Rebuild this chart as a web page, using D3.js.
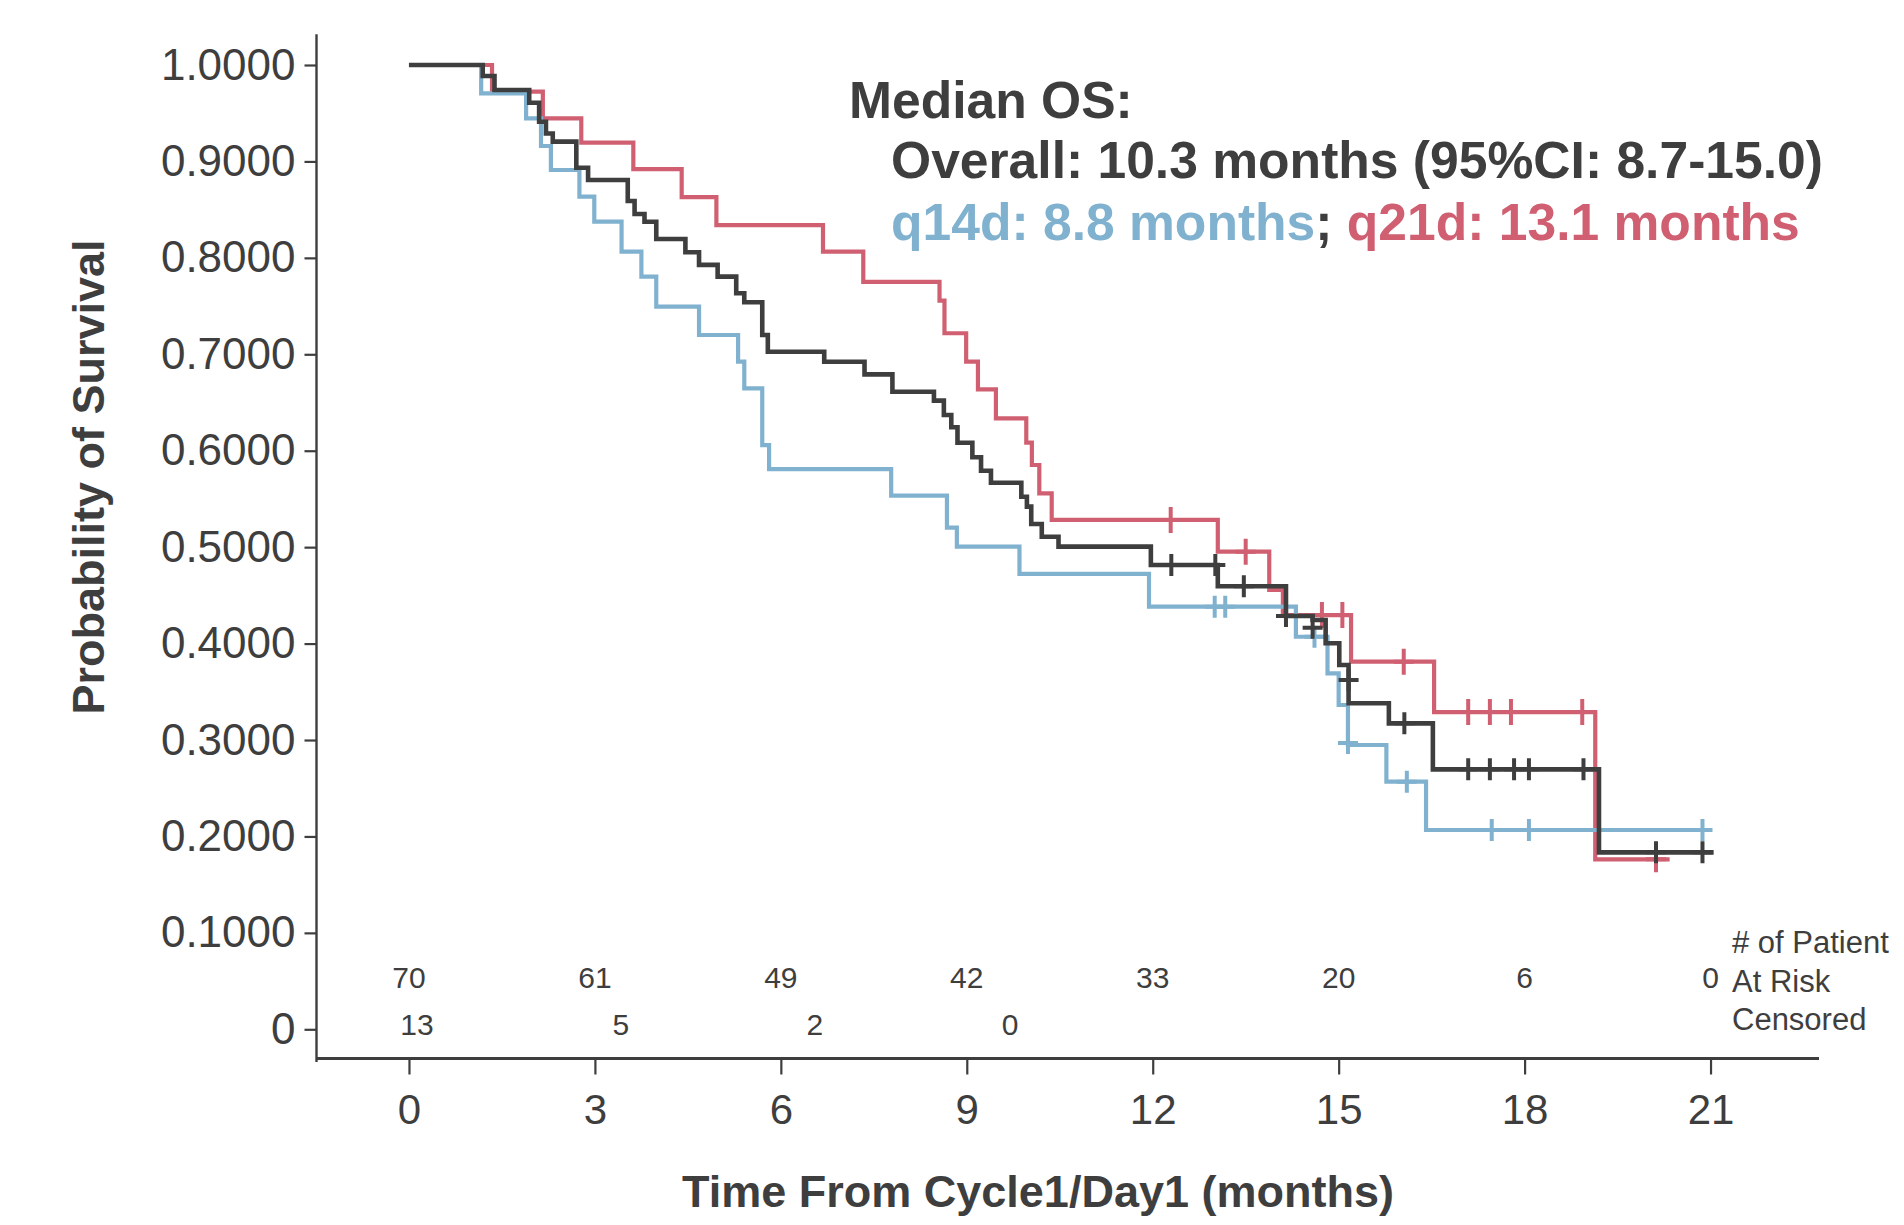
<!DOCTYPE html>
<html><head><meta charset="utf-8">
<script src="https://cdn.jsdelivr.net/npm/d3@7"></script>
<style>
html,body{margin:0;padding:0;background:#fff;overflow:hidden}
svg{display:block;font-family:"Liberation Sans",Arial,Helvetica,sans-serif}
</style></head><body>
<svg id="chart" width="1904" height="1225"></svg>
<script>
// ---- data (time in months, survival probability) ----
const overallSteps = [
  [0,1.0],[1.19,0.9886],[1.38,0.9741],[1.94,0.9609],[2.10,0.9412],[2.21,0.9290],[2.32,0.9205],
  [2.70,0.8935],[2.89,0.8807],[3.53,0.8590],[3.64,0.8455],[3.80,0.8375],[3.99,0.8196],
  [4.46,0.8058],[4.68,0.7927],[4.98,0.7805],[5.28,0.7633],[5.41,0.7539],[5.70,0.7200],
  [5.79,0.7027],[6.70,0.6923],[7.35,0.6792],[7.80,0.6612],[8.47,0.6519],[8.63,0.6370],
  [8.75,0.6243],[8.85,0.6083],[9.09,0.5932],[9.23,0.5793],[9.39,0.5668],[9.88,0.5523],
  [9.97,0.5420],[10.04,0.5240],[10.21,0.5108],[10.48,0.5005],[11.97,0.4815],[13.05,0.4595],
  [14.15,0.4286],[14.58,0.4244],[14.79,0.4003],[15.01,0.3778],[15.16,0.3381],[15.81,0.3173],
  [16.52,0.2696],[19.20,0.1835],[21.05,0.1835]
];
const q14dSteps = [
  [0,1.0],[1.165,0.9706],[1.89,0.9447],[2.13,0.9160],[2.29,0.8911],[2.75,0.8634],[2.99,0.8375],
  [3.43,0.8064],[3.75,0.7805],[3.99,0.7494],[4.68,0.7200],[5.31,0.6923],[5.41,0.6647],
  [5.70,0.6059],[5.81,0.5810],[7.78,0.5534],[8.68,0.5202],[8.84,0.5005],[9.85,0.4722],
  [11.94,0.4383],[14.31,0.4071],[14.82,0.3692],[15.00,0.3363],[15.15,0.2948],[15.77,0.2568],
  [16.41,0.2067],[21.01,0.2067]
];
const q21dSteps = [
  [0,1.0],[1.34,0.9723],[2.16,0.9447],[2.78,0.9194],[3.62,0.8921],[4.40,0.8630],[4.96,0.8340],
  [6.68,0.8064],[7.33,0.7750],[8.56,0.7556],[8.64,0.7218],[8.99,0.6923],[9.18,0.6637],
  [9.47,0.6336],[9.96,0.6083],[10.05,0.5852],[10.17,0.5558],[10.37,0.5282],[13.05,0.4953],
  [13.88,0.4556],[14.10,0.4296],[15.20,0.3812],[16.54,0.3290],[19.14,0.1763],[20.34,0.1763]
];
const overallCensored = [
  [12.30,0.4815],[13.01,0.4815],[13.47,0.4595],[14.15,0.4286],[14.58,0.4165],[15.16,0.3622],
  [16.06,0.3173],[17.09,0.2696],[17.44,0.2696],[17.83,0.2696],[18.07,0.2696],[18.95,0.2696],
  [20.12,0.1835],[20.87,0.1835]
];
const q14dCensored = [
  [13.00,0.4383],[13.17,0.4383],[14.61,0.4071],[15.15,0.2970],[16.10,0.2568],
  [17.47,0.2067],[18.07,0.2067],[20.87,0.2067]
];
const q21dCensored = [
  [12.29,0.5282],[13.50,0.4953],[14.73,0.4296],[15.06,0.4296],[16.05,0.3812],
  [17.09,0.3290],[17.44,0.3290],[17.78,0.3290],[18.93,0.3290],[20.12,0.1763]
];
const xTicks = [0,3,6,9,12,15,18,21];
const yTicks = [0,0.1,0.2,0.3,0.4,0.5,0.6,0.7,0.8,0.9,1.0];
const atRiskTimes = [0,3,6,9,12,15,18,21];
const atRiskCounts = [70,61,49,42,33,20,6,0];
const censoredTimes = [0.13,3.42,6.55,9.70];
const censoredCounts = [13,5,2,0];
const tableLabels = ["# of Patient","At Risk","Censored"];
const titleLine1 = "Median OS:";
const titleLine2 = "Overall: 10.3 months (95%CI: 8.7-15.0)";
const titleLine3 = [["q14d: 8.8 months","q14d"],["; ","overall"],["q21d: 13.1 months","q21d"]];
const xLabel = "Time From Cycle1/Day1 (months)";
const yLabel = "Probability of Survival";

// ---- styles ----
const colors = {overall:"#3e3e3e", q14d:"#80b2d0", q21d:"#d06071"};
const dark = "#3e3e3e";

const svg = d3.select("#chart");
const x = d3.scaleLinear().domain([-1.5, 22.75]).range([316, 1819]);
const y = d3.scaleLinear().domain([0, 1]).range([1029.3, 65]);

// axes
const yAxis = d3.axisLeft(y).tickValues(yTicks).tickSize(12).tickPadding(9)
  .tickFormat(d => d === 0 ? "0" : d.toFixed(4));
const gy = svg.append("g").attr("transform","translate(316.5,0)").call(yAxis);
gy.select(".domain").remove();
gy.selectAll("line").attr("stroke",dark).attr("stroke-width",2.2);
gy.selectAll("text").attr("fill",dark).attr("font-size",44).attr("font-family","'Liberation Sans',Arial,sans-serif");
svg.append("line").attr("x1",316.5).attr("x2",316.5).attr("y1",y(1.032)).attr("y2",y(-0.034))
  .attr("stroke",dark).attr("stroke-width",2.4);

const xAxis = d3.axisBottom(x).tickValues(xTicks).tickSize(16).tickPadding(20).tickFormat(d3.format("d"));
const gx = svg.append("g").attr("transform","translate(0,1058.5)").call(xAxis);
gx.select(".domain").remove();
gx.selectAll("line").attr("stroke",dark).attr("stroke-width",2.2);
gx.selectAll("text").attr("fill",dark).attr("font-size",42).attr("font-family","'Liberation Sans',Arial,sans-serif");
svg.append("line").attr("x1",316).attr("x2",x(22.75)).attr("y1",1058.5).attr("y2",1058.5)
  .attr("stroke",dark).attr("stroke-width",3);

// axis labels
svg.append("text").attr("transform","translate(104,477) rotate(-90)").attr("text-anchor","middle")
  .attr("font-weight","bold").attr("font-size",45).attr("fill",dark).text(yLabel);
svg.append("text").attr("x",1038).attr("y",1207).attr("text-anchor","middle")
  .attr("font-weight","bold").attr("font-size",45).attr("fill",dark).text(xLabel);

// curves
const line = d3.line().x(d => x(d[0])).y(d => y(d[1])).curve(d3.curveStepAfter);
const series = [
  {key:"q21d", steps:q21dSteps, cens:q21dCensored, w:4.2, v:13},
  {key:"q14d", steps:q14dSteps, cens:q14dCensored, w:4.2, v:11},
  {key:"overall", steps:overallSteps, cens:overallCensored, w:4.6, v:11}
];
series.forEach(s => {
  svg.append("path").datum(s.steps).attr("d", line).attr("fill","none")
    .attr("stroke", colors[s.key]).attr("stroke-width", s.w).attr("stroke-linejoin","miter");
  svg.append("g").selectAll("path").data(s.cens).join("path")
    .attr("d", d => {
      const cx = x(d[0]), cy = y(d[1]);
      return `M${cx-10},${cy}H${cx+10}M${cx},${cy-s.v}V${cy+s.v}`;
    })
    .attr("stroke", colors[s.key]).attr("stroke-width", 4).attr("fill","none");
});

// at-risk table
svg.append("g").selectAll("text").data(atRiskCounts).join("text")
  .attr("x",(d,i)=>x(atRiskTimes[i])).attr("y",988).attr("text-anchor","middle")
  .attr("font-size",30).attr("fill",dark).text(d=>d);
svg.append("g").selectAll("text").data(censoredCounts).join("text")
  .attr("x",(d,i)=>x(censoredTimes[i])).attr("y",1035).attr("text-anchor","middle")
  .attr("font-size",30).attr("fill",dark).text(d=>d);
svg.append("g").selectAll("text").data(tableLabels).join("text")
  .attr("x",1732).attr("y",(d,i)=>953 + i*38.5)
  .attr("font-size",31).attr("fill",dark).text(d=>d);

// title
svg.append("text").attr("x",849).attr("y",118).attr("font-weight","bold").attr("font-size",51.6)
  .attr("fill",dark).text(titleLine1);
svg.append("text").attr("x",891).attr("y",178).attr("font-weight","bold").attr("font-size",51.6)
  .attr("fill",dark).text(titleLine2);
const t3 = svg.append("text").attr("x",891).attr("y",240).attr("font-weight","bold").attr("font-size",51.6);
titleLine3.forEach(([txt,key]) => t3.append("tspan").attr("fill",colors[key]).text(txt));
</script>
</body></html>
